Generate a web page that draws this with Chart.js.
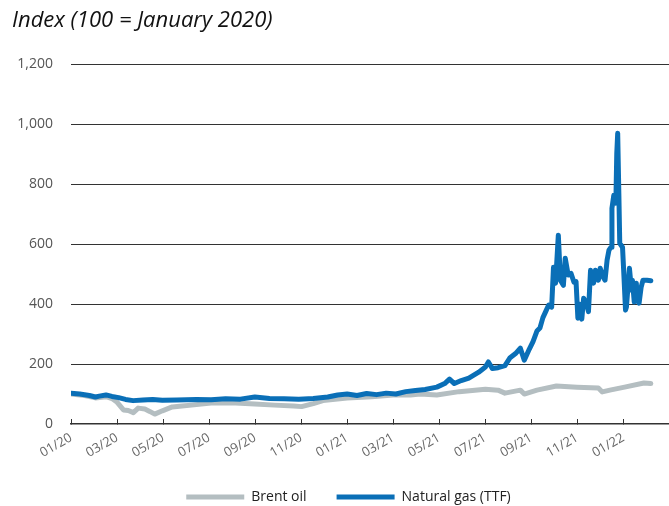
<!DOCTYPE html>
<html>
<head>
<meta charset="utf-8">
<script src="https://cdn.jsdelivr.net/npm/chart.js@4/dist/chart.umd.min.js"></script>
<style>
  html, body { margin: 0; padding: 0; background: #fff; }
  #wrap { width: 669px; height: 506px; position: relative; }
</style>
</head>
<body>
<div id="wrap"><canvas id="chart"></canvas></div>
<script>
// x values are months since 1 Jan 2020
const tickMonths = [0, 2, 4, 6, 8, 10, 12, 14, 16, 18, 20, 22, 24];
const tickLabels = ['01/20', '03/20', '05/20', '07/20', '09/20', '11/20', '01/21', '03/21', '05/21', '07/21', '09/21', '11/21', '01/22'];

const brentMonths = [0, 0.59, 1.06, 1.52, 1.78, 1.99, 2.28, 2.49, 2.71, 2.92, 3.21, 3.42, 3.64, 3.97, 4.4, 4.82, 5.24, 6.09, 7.15, 7.99, 8.84, 9.68, 10.02, 10.53, 10.95, 12.0, 13.07, 14.0, 14.76, 15.18, 15.9, 16.87, 18.01, 18.56, 18.86, 19.53, 19.7, 20.25, 21.1, 21.99, 22.92, 23.09, 23.42, 24.06, 24.9, 25.2];
const brentValues = [100, 95, 87, 91, 85, 74, 47, 45, 38, 53, 50, 42, 33, 44, 57, 60, 63, 70, 70, 67, 63, 60, 58, 68, 78, 87, 91, 97, 97, 100, 97, 108, 116, 113, 103, 113, 100, 113, 127, 123, 120, 107, 113, 123, 137, 135];

const gasMonths = [0, 0.38, 0.8, 1.06, 1.23, 1.52, 1.78, 2.07, 2.37, 2.7, 3.13, 3.55, 3.97, 4.6, 5.45, 6.09, 6.72, 7.36, 7.99, 8.63, 9.26, 9.9, 10.53, 11.16, 11.59, 12.0, 12.43, 12.85, 13.28, 13.7, 14.12, 14.55, 14.97, 15.39, 15.9, 16.24, 16.45, 16.66, 16.96, 17.29, 17.72, 18.01, 18.14, 18.31, 18.56, 18.86, 19.07, 19.32, 19.53, 19.7, 19.92, 20.08, 20.25, 20.38, 20.51, 20.63, 20.76, 20.89, 20.97, 21.06, 21.18, 21.27, 21.4, 21.48, 21.61, 21.73, 21.86, 21.95, 22.03, 22.11, 22.2, 22.28, 22.41, 22.49, 22.58, 22.71, 22.79, 22.92, 23.0, 23.13, 23.21, 23.3, 23.38, 23.47, 23.51, 23.59, 23.68, 23.72, 23.76, 23.81, 23.85, 23.97, 24.02, 24.1, 24.14, 24.27, 24.36, 24.4, 24.48, 24.57, 24.61, 24.69, 24.78, 24.86, 25.03, 25.2];
const gasValues = [103, 100, 95, 90, 93, 97, 92, 88, 82, 78, 80, 82, 79, 80, 82, 81, 84, 83, 90, 85, 84, 83, 85, 90, 97, 100, 95, 102, 98, 103, 100, 108, 112, 115, 123, 135, 150, 135, 145, 153, 173, 190, 207, 185, 188, 195, 220, 235, 253, 213, 250, 275, 310, 320, 355, 375, 397, 390, 523, 470, 630, 480, 463, 553, 497, 503, 473, 475, 353, 400, 350, 420, 400, 375, 513, 470, 513, 480, 520, 490, 480, 547, 580, 590, 720, 763, 737, 903, 970, 770, 603, 590, 513, 380, 390, 520, 447, 480, 407, 470, 413, 403, 457, 480, 480, 478];

const yTicks = [0, 200, 400, 600, 800, 1000, 1200];

function toPoints(xs, ys) {
    return xs.map(function(x, i) { return {x: x, y: ys[i]}; });
}

const brentColor = '#b4bec1';
const gasColor = '#0a6fb7';

var config = {
    type: 'line',
    data: {
        datasets: [
            {
                label: 'Brent oil',
                data: toPoints(brentMonths, brentValues),
                borderColor: brentColor,
                backgroundColor: brentColor,
                borderWidth: 5,
                borderCapStyle: 'round',
                borderJoinStyle: 'round',
                pointRadius: 0,
                pointStyle: 'line',
                order: 1,
            },
            {
                label: 'Natural gas (TTF)',
                data: toPoints(gasMonths, gasValues),
                borderColor: gasColor,
                backgroundColor: gasColor,
                borderWidth: 5,
                borderCapStyle: 'round',
                borderJoinStyle: 'round',
                pointRadius: 0,
                pointStyle: 'line',
                order: 0,
            }
        ]
    },
    options: {
        responsive: true,
        maintainAspectRatio: false,
        animation: false,
        layout: {
            // right edge pushed past the canvas so the plot runs to the border
            padding: {left: 12, right: -16, top: 0, bottom: -8}
        },
        plugins: {
            title: {
                display: true,
                text: 'Index (100 = January 2020)',
                align: 'start',
                color: '#111',
                font: {family: 'Open Sans', size: 22, style: 'italic', weight: 'normal'},
                padding: {top: 8, bottom: 30},
            },
            legend: {
                position: 'bottom',
                reverse: true,
                labels: {
                    usePointStyle: true,
                    pointStyleWidth: 58,
                    padding: 30,
                    color: '#222',
                    font: {family: 'Open Sans', size: 14},
                }
            },
            tooltip: {enabled: false}
        },
        scales: {
            x: {
                type: 'linear',
                min: 0,
                max: 25.99,
                afterBuildTicks: function(scale) {
                    scale.ticks = tickMonths.map(function(m) { return {value: m}; });
                },
                afterFit: function(scale) { scale.height = 36; },
                ticks: {
                    callback: function(value) {
                        var i = tickMonths.indexOf(value);
                        return i >= 0 ? tickLabels[i] : '';
                    },
                    maxRotation: 30,
                    minRotation: 30,
                    autoSkip: false,
                    color: '#666',
                    font: {family: 'Open Sans', size: 13},
                    padding: 11,
                },
                grid: {
                    drawOnChartArea: false,
                    drawTicks: true,
                    tickLength: -5,
                    color: '#333',
                },
                border: {color: '#333', width: 1.5},
            },
            y: {
                min: 0,
                max: 1200,
                afterBuildTicks: function(scale) {
                    scale.ticks = yTicks.map(function(v) { return {value: v}; });
                },
                afterFit: function(scale) { scale.width = 59; },
                ticks: {
                    color: '#555',
                    font: {family: 'Open Sans', size: 14},
                    padding: 18,
                    callback: function(value) { return value.toLocaleString('en-US'); },
                },
                grid: {
                    color: function(ctx) { return ctx.tick.value === 0 ? 'rgba(0,0,0,0)' : '#333'; },
                    lineWidth: 1,
                    drawTicks: false,
                },
                border: {display: false},
            }
        }
    },
};

new Chart(document.getElementById('chart'), config);
</script>
</body>
</html>
